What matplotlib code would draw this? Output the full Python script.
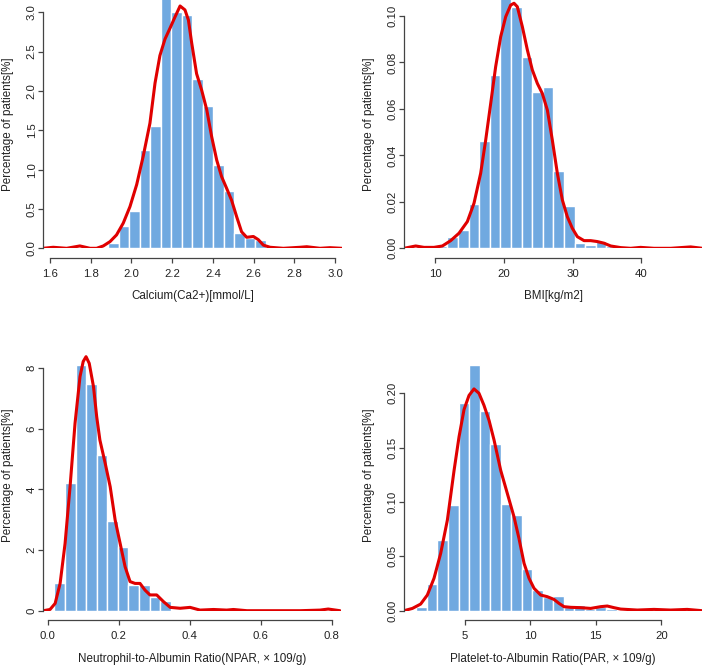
import numpy as np
import matplotlib
matplotlib.use("Agg")
import matplotlib.pyplot as plt

plt.rcParams['font.family'] = ['Liberation Sans', 'DejaVu Sans']

BAR_COL = '#70a9e0'
LINE_COL = '#e00000'
AX_COL = '#444444'
TXT_COL = '#222222'

# --- Calcium ---
ca_edges = [1.887, 1.938, 1.990, 2.041, 2.093, 2.144, 2.196, 2.247, 2.299,
            2.350, 2.402, 2.453, 2.505, 2.556, 2.608, 2.659]
ca_hist = [0.07, 0.28, 0.48, 1.25, 1.555, 3.3, 3.0, 2.96, 2.15, 1.81,
           1.06, 0.73, 0.20, 0.13, 0.10]
ca_dens_x = [1.567, 1.616, 1.682, 1.747, 1.797, 1.829, 1.862, 1.895, 1.927,
             1.960, 1.993, 2.026, 2.058, 2.091, 2.116, 2.140, 2.165, 2.190,
             2.214, 2.239, 2.263, 2.280, 2.296, 2.320, 2.345, 2.370, 2.394,
             2.419, 2.443, 2.468, 2.492, 2.517, 2.541, 2.566, 2.599, 2.623,
             2.648, 2.681, 2.746, 2.828, 2.861, 2.926, 2.975, 3.033]
ca_dens_y = [0.0, 0.013, 0.0, 0.03, 0.0, 0.0, 0.03, 0.085, 0.17, 0.32, 0.53,
             0.81, 1.17, 1.59, 2.10, 2.45, 2.66, 2.80, 2.94, 3.08, 3.03, 2.90,
             2.61, 2.22, 2.01, 1.76, 1.42, 1.12, 0.91, 0.76, 0.61, 0.40, 0.21,
             0.14, 0.15, 0.11, 0.04, 0.013, 0.0, 0.013, 0.02, 0.0, 0.008, 0.0]

# --- BMI ---
bmi_edges = [7.2, 8.7, 10.3, 11.8, 13.3, 14.9, 16.4, 18.0, 19.5, 21.1, 22.6,
             24.1, 25.7, 27.2, 28.8, 30.3, 31.8, 33.4, 34.9, 36.4]
bmi_hist = [0.0015, 0.0003, 0.0008, 0.005, 0.0079, 0.0191, 0.0462, 0.0747,
            0.108, 0.104, 0.0825, 0.0673, 0.0693, 0.0331, 0.0182, 0.0024,
            0.0014, 0.0032, 0.0011]
bmi_dens_x = [5.49, 7.19, 8.4, 9.85, 11.07, 12.28, 13.49, 14.7, 15.67, 16.64,
              17.37, 18.1, 18.82, 19.55, 20.28, 21.0, 21.49, 21.97, 22.7,
              23.43, 24.15, 24.88, 25.6, 26.34, 27.06, 27.79, 28.52, 29.24,
              29.97, 30.7, 31.67, 32.64, 33.6, 34.58, 35.55, 37.0, 38.45,
              39.9, 41.85, 44.27, 47.18, 48.87]
bmi_dens_y = [0.0, 0.001, 0.0004, 0.0004, 0.001, 0.0033, 0.0065, 0.0115,
              0.0194, 0.0323, 0.0466, 0.0624, 0.0782, 0.0911, 0.0997, 0.1047,
              0.1055, 0.104, 0.0954, 0.0854, 0.0768, 0.071, 0.0667, 0.0595,
              0.0466, 0.0323, 0.0208, 0.0136, 0.0086, 0.005, 0.0033, 0.0033,
              0.0029, 0.0022, 0.001, 0.0003, 0.0, 0.0004, 0.0, 0.0, 0.0006, 0.0]

# --- NPAR ---
npar_edges = [0.0188, 0.0486, 0.0784, 0.1082, 0.1380, 0.1678, 0.1976, 0.2274,
              0.2571, 0.2869, 0.3167, 0.3465]
npar_hist = [0.90, 4.20, 8.11, 7.48, 5.15, 2.97, 2.11, 0.85, 0.85, 0.46, 0.32]
npar_dens_x = [-0.012, 0.0066, 0.021, 0.035, 0.049, 0.063, 0.077, 0.091,
               0.100, 0.108, 0.117, 0.129, 0.138, 0.147, 0.162, 0.176, 0.190,
               0.204, 0.218, 0.232, 0.246, 0.260, 0.274, 0.288, 0.307, 0.326,
               0.345, 0.373, 0.401, 0.429, 0.467, 0.504, 0.523, 0.561, 0.617,
               0.711, 0.767, 0.790, 0.823]
npar_dens_y = [0.0, 0.04, 0.24, 0.9, 2.22, 4.09, 6.18, 7.72, 8.22, 8.38, 8.16,
               7.39, 6.40, 5.63, 4.86, 4.09, 2.99, 2.22, 1.45, 0.96, 0.90, 0.90,
               0.68, 0.52, 0.52, 0.30, 0.11, 0.08, 0.11, 0.02, 0.04, 0.02, 0.04,
               0.0, 0.0, 0.0, 0.02, 0.055, 0.0]

# --- PAR ---
par_edges = [1.31, 2.12, 2.92, 3.72, 4.53, 5.33, 6.14, 6.94, 7.74, 8.55,
             9.35, 10.16, 10.96, 11.76, 12.57, 13.37, 14.18, 14.98, 15.78, 16.59]
par_hist = [0.003, 0.0245, 0.065, 0.097, 0.191, 0.226, 0.184, 0.153, 0.098,
            0.0877, 0.038, 0.019, 0.0123, 0.0138, 0.003, 0.005, 0.002, 0.003,
            0.002]
par_dens_x = [0.37, 1.01, 1.64, 2.15, 2.66, 3.17, 3.68, 4.19, 4.57, 4.95,
              5.33, 5.71, 6.09, 6.47, 6.86, 7.24, 7.75, 8.25, 8.76, 9.14,
              9.53, 9.91, 10.29, 10.8, 11.3, 11.81, 12.2, 12.58, 13.09, 13.85,
              14.61, 15.37, 15.88, 16.39, 16.9, 18.17, 19.44, 20.71, 21.98, 23.13]
par_dens_y = [0.0, 0.0021, 0.0061, 0.0144, 0.0298, 0.0528, 0.0834, 0.129,
              0.160, 0.185, 0.198, 0.204, 0.200, 0.189, 0.175, 0.157, 0.129,
              0.108, 0.0865, 0.0666, 0.0436, 0.0298, 0.0206, 0.0144, 0.0129,
              0.0104, 0.0067, 0.0037, 0.0031, 0.0028, 0.0021, 0.0037, 0.0043,
              0.0028, 0.0015, 0.0006, 0.0012, 0.0006, 0.0012, 0.0]

W, H = 708, 665
fig = plt.figure(figsize=(W / 100, H / 100), dpi=100)


def panel(px_box, xlim, ylim, edges, hist, dx, dy, xticks, yticks, xfmt, yfmt, xlabel):
    # px_box = (left, right, top, bottom) of the plot region, in pixels
    left, right, top, bottom = px_box
    w, h = right - left, bottom - top
    ax = fig.add_axes([left / W, (H - bottom) / H, w / W, h / H])
    edges = np.array(edges)
    ax.bar(edges[:-1], hist, width=np.diff(edges), align='edge',
           color=BAR_COL, edgecolor='white', linewidth=1.0)
    ax.plot(dx, dy, color=LINE_COL, lw=2.2, solid_joinstyle='round',
            solid_capstyle='round')
    ax.set_xlim(*xlim)
    ax.set_ylim(*ylim)
    for s in ['top', 'right']:
        ax.spines[s].set_visible(False)
    ax.spines['bottom'].set_position(('outward', 7))
    ax.spines['bottom'].set_bounds(xticks[0], xticks[-1])
    ax.spines['left'].set_bounds(yticks[0], yticks[-1])
    for s in ['bottom', 'left']:
        ax.spines[s].set_color(AX_COL)
        ax.spines[s].set_linewidth(0.9)
    ax.set_xticks(xticks)
    ax.set_xticklabels([xfmt.format(v) for v in xticks])
    ax.set_yticks(yticks)
    ax.set_yticklabels([yfmt.format(v) for v in yticks], rotation=90, va='center')
    ax.tick_params(length=3.6, width=0.9, color=AX_COL, labelsize=8.2,
                   labelcolor=TXT_COL)
    ax.tick_params(axis='x', pad=4.3)
    ax.tick_params(axis='y', pad=1.0)
    ax.set_xlabel(xlabel, fontsize=8.4, color=TXT_COL)
    ax.set_ylabel('Percentage of patients[%]', fontsize=8.4, color=TXT_COL)
    # R-like label positions
    ax.xaxis.set_label_coords(0.5, -42 / h)
    ax.yaxis.set_label_coords(-29 / w, 0.5)
    return ax


panel((43, 342, 0, 248.3), (1.566, 3.034), (0, 3.156), ca_edges, ca_hist,
      ca_dens_x, ca_dens_y, [1.6, 1.8, 2.0, 2.2, 2.4, 2.6, 2.8, 3.0],
      [0, 0.5, 1.0, 1.5, 2.0, 2.5, 3.0], '{:.1f}', '{:.1f}',
      'Calcium(Ca2+)[mmol/L]')

panel((404, 702.3, 0, 248.3), (5.49, 48.87), (0, 0.1069), bmi_edges, bmi_hist,
      bmi_dens_x, bmi_dens_y, [10, 20, 30, 40],
      [0, 0.02, 0.04, 0.06, 0.08, 0.10], '{:d}', '{:.2f}', 'BMI[kg/m2]')

panel((43, 341, 340, 610.7), (-0.0132, 0.826), (0, 8.93), npar_edges, npar_hist,
      npar_dens_x, npar_dens_y, [0.0, 0.2, 0.4, 0.6, 0.8], [0, 2, 4, 6, 8],
      '{:.1f}', '{:d}', 'Neutrophil-to-Albumin Ratio(NPAR, × 109/g)')

panel((404, 702.3, 340, 610.7), (0.37, 23.13), (0, 0.249), par_edges, par_hist,
      par_dens_x, par_dens_y, [5, 10, 15, 20], [0, 0.05, 0.10, 0.15, 0.20],
      '{:d}', '{:.2f}', 'Platelet-to-Albumin Ratio(PAR, × 109/g)')

fig.savefig('out.png', dpi=100)
